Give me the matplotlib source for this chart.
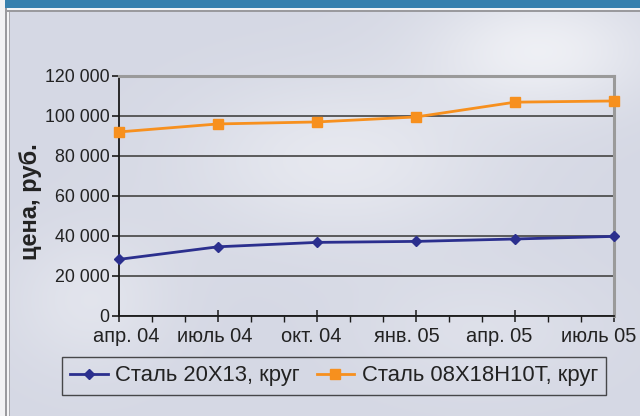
import numpy as np
import matplotlib
matplotlib.use("Agg")
import matplotlib.pyplot as plt
import matplotlib.transforms as mtransforms
from matplotlib.patches import Rectangle
from matplotlib.ticker import FuncFormatter, MultipleLocator

plt.rcParams['font.family'] = ['Liberation Sans', 'DejaVu Sans']

# ---- data ----
months = [0, 3, 6, 9, 12, 15]
tick_labels = ["апр. 04", "июль 04", "окт. 04", "янв. 05", "апр. 05", "июль 05"]
steel_20x13 = [28200, 34500, 36700, 37200, 38400, 39700]
steel_08x18 = [92000, 96000, 97000, 99500, 106900, 107500]
series_names = ["Сталь 20X13, круг", "Сталь 08X18Н10Т, круг"]
y_label = "цена, руб."

W, H = 640, 416
fig = plt.figure(figsize=(W / 100, H / 100), dpi=100)

# ---- background (decorative gradient) ----
bg = fig.add_axes([0, 0, 1, 1], zorder=-10)
bg.set_xlim(0, W)
bg.set_ylim(H, 0)
bg.axis('off')
yy, xx = np.mgrid[0:H, 0:W]
base = np.array([213, 216, 228]) / 255.0
hl = np.zeros((H, W))
for cx, cy, sx, sy, a in [(540, 50, 110, 60, 0.85), (340, 160, 150, 80, 0.6),
                          (90, 300, 80, 70, 0.45), (480, 330, 120, 60, 0.3)]:
    hl += a * np.exp(-(((xx - cx) / sx) ** 2 + ((yy - cy) / sy) ** 2))
hl = np.clip(hl, 0, 1)
white = np.array([242, 243, 247]) / 255.0
img = base[None, None, :] * (1 - hl[..., None]) + white[None, None, :] * hl[..., None]
bg.imshow(img, extent=[0, W, H, 0], aspect='auto', interpolation='bilinear')
# frame decorations
bg.add_patch(Rectangle((0, 0), 5, H, color='#f2f2f4', lw=0))
bg.add_patch(Rectangle((5, 0), 2.2, H, color='#9a9a9e', lw=0))
bg.add_patch(Rectangle((7.2, 12), 1.6, H, color='#f4f4f6', lw=0))
bg.add_patch(Rectangle((8.8, 12), 1.2, H, color='#a8a8ad', lw=0))
bg.add_patch(Rectangle((5, 0), W, 7.5, color='#3780ae', lw=0))
bg.add_patch(Rectangle((7, 7.5), W, 2, color='#f4f4f6', lw=0))
bg.add_patch(Rectangle((7, 9.5), W, 2.5, color='#9a9a9e', lw=0))

# ---- chart ----
left, right, top, bottom = 119, 614, 76, 315.7
ax = fig.add_axes([left / W, 1 - bottom / H, (right - left) / W, (bottom - top) / H])
ax.patch.set_alpha(0)

ax.plot(months, steel_20x13, color='#2b2f8e', lw=2, marker='D', markersize=5,
        label=series_names[0], zorder=5, clip_on=False)
ax.plot(months, steel_08x18, color='#f7901e', lw=2, marker='s', markersize=7.5,
        label=series_names[1], zorder=5, clip_on=False)

ax.set_xlim(0, 15)
ax.set_ylim(0, 120000)
ax.set_yticks(np.arange(0, 120001, 20000))
ax.yaxis.set_major_formatter(FuncFormatter(lambda v, p: f"{int(v):,}".replace(",", " ")))
ax.set_xticks(months)
ax.set_xticklabels(tick_labels)
ax.xaxis.set_minor_locator(MultipleLocator(1))
ax.grid(axis='y', color='#505050', lw=1.3)
ax.set_axisbelow(True)

for s in ['left', 'bottom']:
    ax.spines[s].set_color('#1a1a1a')
    ax.spines[s].set_linewidth(1.3)
for s in ['top', 'right']:
    ax.spines[s].set_color('#9a9a9a')
    ax.spines[s].set_linewidth(2.2)

ax.tick_params(axis='y', direction='out', length=5, width=1.2, colors='#1a1a1a',
               labelsize=12.8, pad=2, labelcolor='#222222')
ax.tick_params(axis='x', which='major', direction='inout', length=8, width=1.1,
               colors='#1a1a1a', labelsize=14.4, pad=4, labelcolor='#222222')
ax.tick_params(axis='x', which='minor', direction='out', length=4, width=1.0, colors='#1a1a1a')

# shift x labels horizontally like the reference layout (pixels)
label_shift = [7, -3.5, -6, -9, -16, -15]
for lab, dx in zip(ax.get_xticklabels(), label_shift):
    lab.set_transform(lab.get_transform() +
                      mtransforms.ScaledTranslation(dx / 100, 0, fig.dpi_scale_trans))

fig.text(30 / W, 1 - 202 / H, y_label, rotation=90, ha='center', va='center',
         fontsize=17, fontweight='bold', color='#222222')

leg = fig.legend(loc='upper left', bbox_to_anchor=(62 / W, 1 - 357 / H), ncol=2,
                 frameon=True, fancybox=False, fontsize=15.8, handlelength=1.7,
                 columnspacing=0.75, handletextpad=0.35, borderpad=0.38,
                 borderaxespad=0)
leg.get_frame().set_edgecolor('#222222')
leg.get_frame().set_facecolor('none')
leg.get_frame().set_linewidth(1.0)
for t in leg.get_texts():
    t.set_color('#222222')

fig.savefig("out.png", dpi=100)
